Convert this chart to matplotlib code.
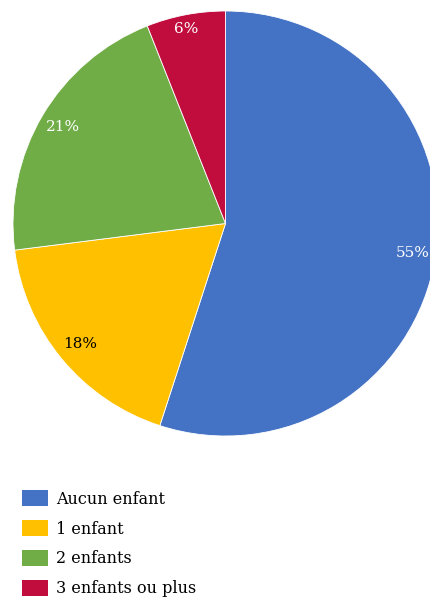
import matplotlib.pyplot as plt
from matplotlib.patches import Patch

labels = ["Aucun enfant", "1 enfant", "2 enfants", "3 enfants ou plus"]
shares = [55, 18, 21, 6]
colors = ["#4472C4", "#FFC000", "#70AD47", "#C00D3E"]
text_colors = ["white", "black", "white", "white"]

plt.rcParams['font.family'] = ['DejaVu Serif']

W, H = 430, 599
fig = plt.figure(figsize=(W / 100, H / 100), dpi=100)

# pie box in pixels: x 13..438, y 11..436 (from top)
ax = fig.add_axes([13 / W, (H - 436) / H, 425 / W, 425 / H])
wedges, texts, autotexts = ax.pie(
    shares, colors=colors, startangle=90, counterclock=False,
    autopct=lambda p: "%d%%" % round(p), pctdistance=0.89,
    wedgeprops=dict(edgecolor="white", linewidth=0.6),
    textprops=dict(fontsize=11))
for t, c in zip(autotexts, text_colors):
    t.set_color(c)
# small slice label sits a bit higher, as in the original
x6, y6 = autotexts[3].get_position()
autotexts[3].set_position((x6 - 0.016, y6 + 0.04))
ax.set_xlim(-1, 1)
ax.set_ylim(-1, 1)
ax.set_aspect("equal")
ax.axis("off")

handles = [Patch(facecolor=c, edgecolor="none") for c in colors]
fig.legend(handles, labels, loc="upper left", bbox_to_anchor=(16 / W, 1 - 484 / H),
           frameon=False, fontsize=11.5, handlelength=1.63, handleheight=1.15,
           handletextpad=0.5, labelspacing=0.78, borderaxespad=0)

fig.savefig("out.png", dpi=100)
